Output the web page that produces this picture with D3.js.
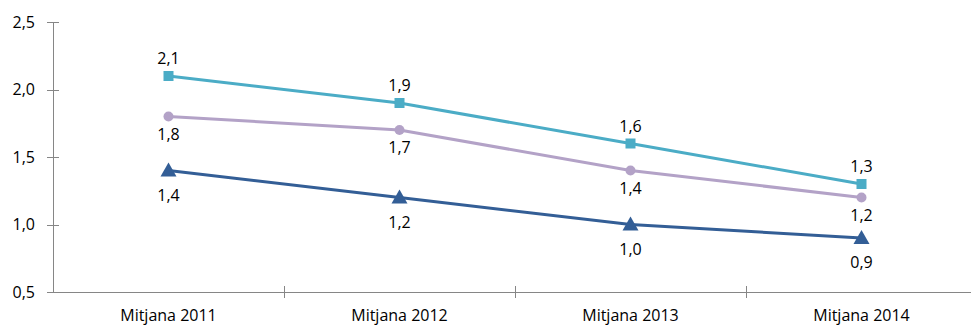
<!DOCTYPE html>
<html>
<head>
<meta charset="utf-8">
<script src="https://cdn.jsdelivr.net/npm/d3@7"></script>
<style>
  body { margin: 0; background: #fff; }
  text { font-family: "Open Sans", sans-serif; fill: #000; }
</style>
</head>
<body>
<svg id="chart" width="971" height="325"></svg>
<script>
// data
var categories = ["Mitjana 2011", "Mitjana 2012", "Mitjana 2013", "Mitjana 2014"]
var serieCyan = [2.1, 1.9, 1.6, 1.3]
var seriePurple = [1.8, 1.7, 1.4, 1.2]
var serieBlue = [1.4, 1.2, 1.0, 0.9]
var yTicks = [0.5, 1.0, 1.5, 2.0, 2.5]

var series = [
    { values: serieCyan, color: "#4bacc6", marker: "square", labelDy: -12 },
    { values: seriePurple, color: "#b3a2c7", marker: "circle", labelDy: 23 },
    { values: serieBlue, color: "#335e96", marker: "triangle", labelDy: 30 }
]

var svg = d3.select("#chart")
var fmt = function (v) { return d3.format(".1f")(v).replace(".", ",") }

var x = d3.scaleBand()
    .domain(categories)
    .range([53, 977])

var y = d3.scaleLinear()
    .domain([0.5, 2.5])
    .range([292, 22])

// axes
var grey = "#868686"
svg.append("line")
    .attr("x1", 53.5).attr("x2", 53.5)
    .attr("y1", y(2.5)).attr("y2", y(0.5))
    .style("stroke", grey)
svg.append("line")
    .attr("x1", 53).attr("x2", 971)
    .attr("y1", y(0.5) + 0.5).attr("y2", y(0.5) + 0.5)
    .style("stroke", grey)

yTicks.forEach(function (t) {
    svg.append("line")
        .attr("x1", 47).attr("x2", 59)
        .attr("y1", Math.round(y(t)) + 0.5).attr("y2", Math.round(y(t)) + 0.5)
        .style("stroke", grey)
    svg.append("text")
        .text(fmt(t))
        .attr("x", 35)
        .attr("y", y(t))
        .attr("dy", "0.35em")
        .style("text-anchor", "end")
        .style("font-size", "16px")
})

categories.forEach(function (c, i) {
    var xe = Math.round(x(c) + x.bandwidth()) + 0.5
    svg.append("line")
        .attr("x1", xe).attr("x2", xe)
        .attr("y1", y(0.5) - 6).attr("y2", y(0.5) + 6)
        .style("stroke", grey)
    svg.append("text")
        .text(c)
        .attr("x", x(c) + x.bandwidth() / 2)
        .attr("y", 321)
        .style("text-anchor", "middle")
        .style("font-size", "16px")
})

var line = d3.line()
    .x(function (d, i) { return x(categories[i]) + x.bandwidth() / 2 })
    .y(function (d) { return y(d) })

series.forEach(function (s) {
    var g = svg.append("g")
    g.append("path")
        .attr("d", line(s.values))
        .style("fill", "none")
        .style("stroke", s.color)
        .style("stroke-width", 3)

    s.values.forEach(function (v, i) {
        var cx = x(categories[i]) + x.bandwidth() / 2
        var cy = y(v)
        if (s.marker == "square") {
            g.append("rect")
                .attr("x", cx - 5).attr("y", cy - 5)
                .attr("width", 10).attr("height", 10)
                .style("fill", s.color)
        } else if (s.marker == "circle") {
            g.append("circle")
                .attr("cx", cx).attr("cy", cy).attr("r", 5)
                .style("fill", s.color)
        } else {
            g.append("path")
                .attr("d", "M" + cx + "," + (cy - 8) + "L" + (cx + 8) + "," + (cy + 6) + "L" + (cx - 8) + "," + (cy + 6) + "Z")
                .style("fill", s.color)
        }
        g.append("text")
            .text(fmt(v))
            .attr("x", cx)
            .attr("y", cy + s.labelDy)
            .style("text-anchor", "middle")
            .style("font-size", "16px")
    })
})
</script>
</body>
</html>
